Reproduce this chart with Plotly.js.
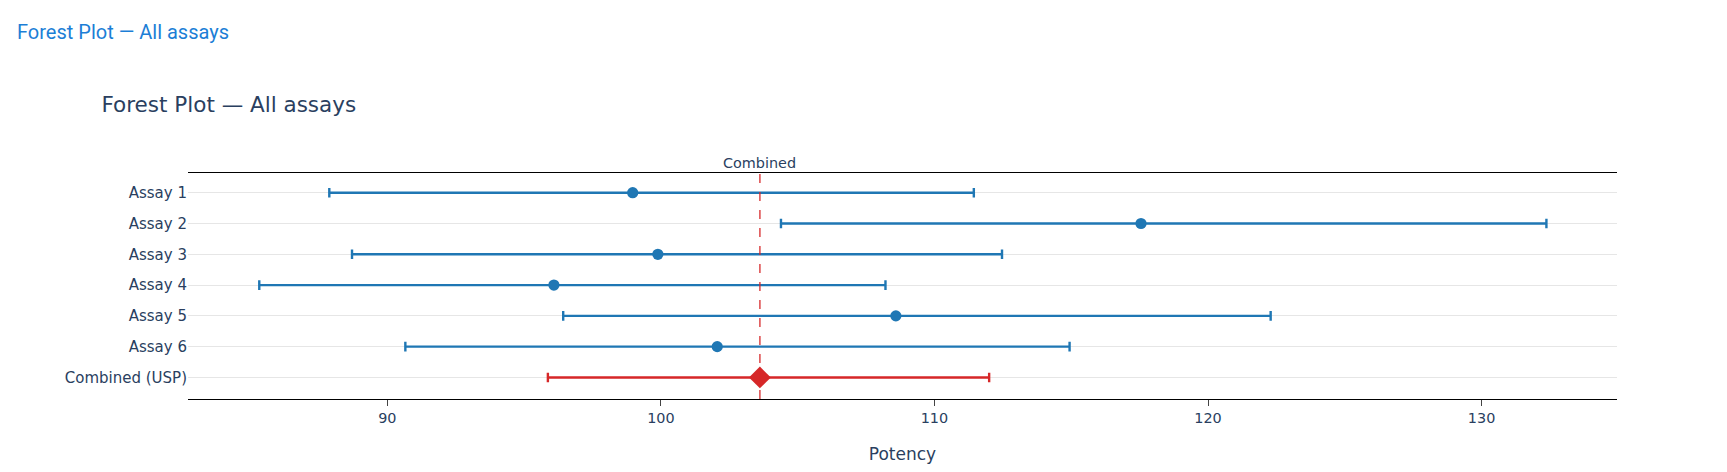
<!DOCTYPE html>
<html>
<head>
<meta charset="utf-8">
<script src="https://cdn.plot.ly/plotly-3.0.1.min.js"></script>
<style>
html,body{margin:0;padding:0;background:#fff;}
#chart{position:absolute;left:0;top:0;width:1727px;height:472px;}
#hdr{position:absolute;left:17px;top:20px;font-family:Roboto,"Noto Sans",sans-serif;font-size:20px;color:#1c7ed6;z-index:10;line-height:normal;white-space:nowrap;}
</style>
</head>
<body>
<div id="chart"></div>
<div id="hdr">Forest Plot — All assays</div>
<script>
// ---- data ----
const assays = ['Assay 1', 'Assay 2', 'Assay 3', 'Assay 4', 'Assay 5', 'Assay 6'];
const estimates = [98.97, 117.55, 99.89, 96.09, 108.59, 102.06];
const lower = [87.88, 104.39, 88.71, 85.32, 96.43, 90.66];
const upper = [111.44, 132.37, 112.47, 108.21, 122.29, 114.94];
const combinedLabel = 'Combined (USP)';
const combinedEstimate = [103.62];
const combinedLower = [95.87];
const combinedUpper = [112.00];
const refLineLabel = 'Combined';
const xTitle = 'Potency';
const chartTitle = 'Forest Plot — All assays';

// ---- derived ----
const plusErr = upper.map((u, i) => u - estimates[i]);
const minusErr = lower.map((l, i) => estimates[i] - l);
const cPlus = combinedUpper.map((u, i) => u - combinedEstimate[i]);
const cMinus = combinedLower.map((l, i) => combinedEstimate[i] - l);
const categories = assays.concat([combinedLabel]);

const traces = [
  {
    type: 'scatter', mode: 'markers',
    x: estimates, y: assays,
    marker: {color: '#1f77b4', size: 11.2},
    error_x: {type: 'data', symmetric: false, array: plusErr, arrayminus: minusErr,
              color: '#1f77b4', thickness: 2.4, width: 4.8},
    hoverinfo: 'x+y'
  },
  {
    type: 'scatter', mode: 'markers',
    x: combinedEstimate, y: [combinedLabel],
    marker: {color: '#d62728', size: 16.8, symbol: 'diamond'},
    error_x: {type: 'data', symmetric: false, array: cPlus, arrayminus: cMinus,
              color: '#d62728', thickness: 2.4, width: 4.8},
    hoverinfo: 'x+y'
  }
];

const layout = {
  width: 1727, height: 472,
  margin: {l: 188, r: 109.5, t: 173.3, b: 73, pad: 0},
  paper_bgcolor: 'rgba(0,0,0,0)', plot_bgcolor: '#ffffff',
  font: {family: 'Verdana, "DejaVu Sans", sans-serif', size: 14.4, color: '#2a3f5f'},
  title: {text: chartTitle, x: 101.5 / 1727, xanchor: 'left', xref: 'container',
          y: 1 - 104.2 / 472, yref: 'container', yanchor: 'middle',
          font: {size: 21.5, color: '#2a3f5f'}},
  showlegend: false,
  xaxis: {
    range: [82.715, 134.95], showgrid: false, zeroline: false,
    showline: true, mirror: true, linecolor: '#000', linewidth: 1.2,
    ticks: 'outside', ticklen: 6, tickwidth: 1.2, tickcolor: '#444',
    tick0: 0, dtick: 10, tickfont: {size: 14.4},
    title: {text: xTitle, font: {size: 17}}
  },
  yaxis: {
    type: 'category', categoryorder: 'array', categoryarray: categories,
    range: [6.70, -0.64], showgrid: true, gridcolor: '#e6e6e6', gridwidth: 1.2,
    zeroline: false, showline: false, ticks: '', tickfont: {size: 15}
  },
  shapes: [{
    type: 'line', xref: 'x', yref: 'paper',
    x0: combinedEstimate[0], x1: combinedEstimate[0], y0: 0, y1: 1,
    line: {color: '#d62728', width: 1.5, dash: 'dash'}, opacity: 0.85, layer: 'above'
  }],
  annotations: [{
    text: refLineLabel, x: combinedEstimate[0], xref: 'x', y: 1, yref: 'paper',
    xanchor: 'center', yanchor: 'bottom', showarrow: false,
    font: {size: 14.4, color: '#2a3f5f'}
  }]
};

Plotly.newPlot('chart', traces, layout, {displayModeBar: false, responsive: false});
</script>
</body>
</html>
